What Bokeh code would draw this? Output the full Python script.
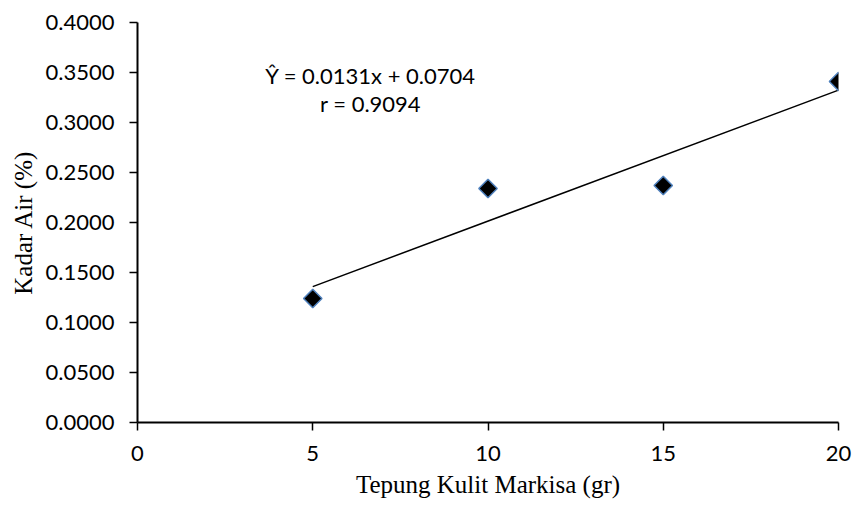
from bokeh.plotting import figure
from bokeh.models import Range1d, Label, FixedTicker, CustomJSTickFormatter
from bokeh.embed import file_html
from bokeh.resources import INLINE
import numpy as np

# data
tepung = [5, 10, 15, 20]
kadar_air = [0.124, 0.234, 0.237, 0.341]
slope = 0.0131
intercept = 0.0704
x_ticks = [0, 5, 10, 15, 20]
y_ticks = [0.0, 0.05, 0.1, 0.15, 0.2, 0.25, 0.3, 0.35, 0.4]

p = figure(width=854, height=506, output_backend="svg", toolbar_location=None,
           x_range=Range1d(0, 20), y_range=Range1d(0, 0.4),
           min_border_left=137, min_border_right=16, min_border_top=22, min_border_bottom=84)
p.outline_line_color = None
p.xgrid.visible = False
p.ygrid.visible = False
p.background_fill_color = "white"
p.border_fill_color = "white"

tick_font = "Lato"
for ax in (p.xaxis[0], p.yaxis[0]):
    ax.axis_line_color = "black"
    ax.axis_line_width = 2
    ax.major_tick_line_color = "black"
    ax.major_tick_line_width = 1.5
    ax.major_tick_out = 8
    ax.major_tick_in = 0
    ax.minor_tick_line_color = None
    ax.major_label_text_font = tick_font
    ax.major_label_text_font_size = "22px"
    ax.major_label_text_color = "black"
    ax.axis_label_text_font = "Liberation Serif"
    ax.axis_label_text_font_size = "25px"
    ax.axis_label_text_font_style = "normal"
    ax.axis_label_text_color = "black"

p.xaxis.ticker = FixedTicker(ticks=x_ticks)
p.yaxis.ticker = FixedTicker(ticks=y_ticks)
p.yaxis.formatter = CustomJSTickFormatter(code="return tick.toFixed(4);")
p.xaxis.major_label_standoff = 15
p.yaxis.major_label_standoff = 15
p.xaxis.axis_label = "Tepung Kulit Markisa (gr)"
p.yaxis.axis_label = "Kadar Air (%)"
p.xaxis.axis_label_standoff = 7
p.yaxis.axis_label_standoff = 6

# trend line over the data range
xl = np.array([min(tepung), max(tepung)], dtype=float)
yl = slope * xl + intercept
p.line(xl, yl, line_color="black", line_width=1.5)

p.scatter(tepung, kadar_air, marker="square", angle=np.pi / 4, size=13,
          fill_color="black", line_color="#4F81BD", line_width=1.5)

p.add_layout(Label(x=6.65, y=0.347, text="Ŷ = 0.0131x + 0.0704", text_align="center",
                   text_baseline="middle", text_font=tick_font, text_font_size="22px",
                   text_color="black"))
p.add_layout(Label(x=6.65, y=0.319, text="r = 0.9094", text_align="center",
                   text_baseline="middle", text_font=tick_font, text_font_size="22px",
                   text_color="black"))

open("out.html", "w").write(file_html(p, INLINE))
